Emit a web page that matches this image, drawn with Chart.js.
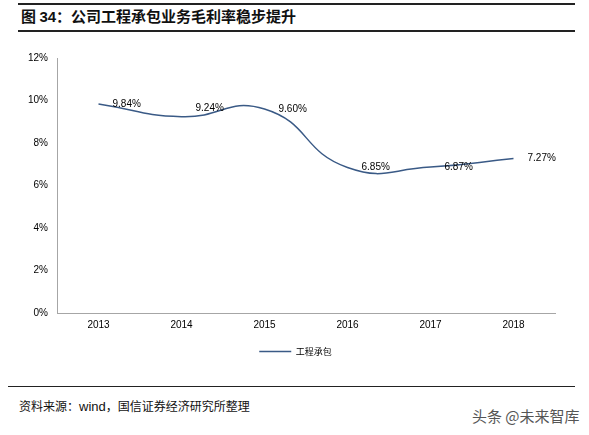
<!DOCTYPE html>
<html><head><meta charset="utf-8">
<script src="https://cdn.jsdelivr.net/npm/chart.js@4/dist/chart.umd.min.js"></script>
<style>
body{margin:0;width:589px;height:435px;background:#fff;position:relative;overflow:hidden;font-family:"Liberation Sans",Arial,sans-serif;}
.rule{position:absolute;left:18px;width:557px;background:#222;}
#title{position:absolute;left:21px;top:7px;font-weight:bold;font-size:15px;font-family:"Noto Sans CJK SC",sans-serif;line-height:18px;color:#111;white-space:nowrap;}
#title .num{font-family:"Liberation Sans",Arial,sans-serif;}
#wrap{position:absolute;left:0;top:36px;width:589px;height:340px;}
#src{position:absolute;left:19px;top:398px;font-size:12px;font-family:"Noto Sans CJK SC",sans-serif;line-height:16px;color:#111;white-space:nowrap;}
#src .lat{font-family:"Liberation Sans",Arial,sans-serif;font-size:13px;}
#wm{position:absolute;left:472px;top:406px;font-size:15px;font-family:"Noto Sans CJK SC",sans-serif;line-height:20px;color:#555;white-space:nowrap;}
</style></head>
<body>
<div class="rule" style="top:3px;height:2px"></div>
<div id="title">图 <span class="num">34</span>：公司工程承包业务毛利率稳步提升</div>
<div class="rule" style="top:30px;height:2px"></div>
<div id="wrap"><canvas id="c" width="589" height="340"></canvas></div>
<div class="rule" style="top:386px;height:1px;left:8px;width:567px"></div>
<div id="src">资料来源：<span class="lat">wind</span>，国信证券经济研究所整理</div>
<div id="wm">头条 @未来智库</div>
<script>
const categories = ['2013','2014','2015','2016','2017','2018'];
const marginValues = [9.84, 9.24, 9.60, 6.85, 6.87, 7.27];
const valueLabels = ['9.84%','9.24%','9.60%','6.85%','6.87%','7.27%'];
const yTicks = [0, 2, 4, 6, 8, 10, 12];
const seriesName = '工程承包';

const lineColor = '#3A5A86';

const labelPlugin = {
  id: 'valueLabels',
  afterDatasetsDraw(chart, args, opts) {
    const ctx = chart.ctx;
    const meta = chart.getDatasetMeta(0);
    ctx.save();
    ctx.font = '10px "Liberation Sans", Arial, sans-serif';
    ctx.fillStyle = '#000';
    ctx.textAlign = 'left';
    ctx.textBaseline = 'middle';
    meta.data.forEach((pt, i) => {
      const dy = (opts.shiftY && opts.shiftY[i]) || 0;
      ctx.fillText(valueLabels[i], pt.x + opts.dx, pt.y + dy);
    });
    ctx.restore();
  }
};

const legendShift = {
  id: 'legendShift',
  afterLayout(chart, args, opts) {
    const l = chart.legend;
    if (l) { l.left += opts.dx; l.right += opts.dx; }
  }
};

new Chart(document.getElementById('c'), {
  type: 'line',
  data: {
    labels: categories,
    datasets: [{
      label: seriesName,
      data: marginValues,
      borderColor: lineColor,
      backgroundColor: lineColor,
      borderWidth: 1.5,
      pointRadius: 0,
      tension: 0.5,
      fill: false
    }]
  },
  options: {
    responsive: false,
    animation: false,
    layout: { padding: { top: 22, right: 34, bottom: 10, left: 0 } },
    scales: {
      x: {
        offset: true,
        grid: { display: true, drawOnChartArea: false, drawTicks: false },
        border: { color: '#A6A6A6', width: 1 },
        ticks: { color: '#000', font: { size: 10, family: '"Liberation Sans", Arial, sans-serif' }, padding: 6, maxRotation: 0 }
      },
      y: {
        min: 0, max: 12,
        afterBuildTicks: s => { s.ticks = yTicks.map(v => ({ value: v })); },
        afterFit: s => { s.width = 57; },
        grid: { display: true, drawOnChartArea: false, drawTicks: false },
        border: { color: '#A6A6A6', width: 1 },
        ticks: { color: '#000', padding: 9, font: { size: 10, family: '"Liberation Sans", Arial, sans-serif' }, callback: v => v + '%' }
      }
    },
    plugins: {
      legend: {
        position: 'bottom',
        labels: {
          boxWidth: 32, boxHeight: 0,
          color: '#000',
          padding: 10,
          font: { size: 9, family: '"Noto Sans CJK SC", sans-serif' }
        }
      },
      tooltip: { enabled: false },
      valueLabels: { dx: 14, shiftY: [0, -8, 0, 0, 0, 0] },
      legendShift: { dx: 18 }
    }
  },
  plugins: [labelPlugin, legendShift]
});
</script>
</body></html>
